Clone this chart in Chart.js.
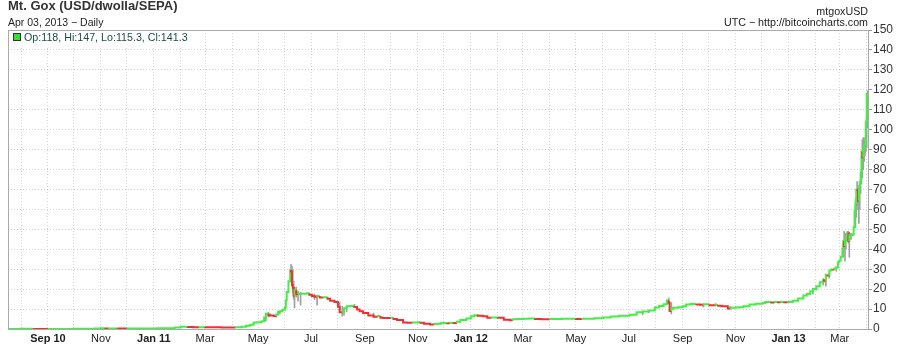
<!DOCTYPE html>
<html>
<head>
<meta charset="utf-8">
<title>Mt. Gox (USD/dwolla/SEPA)</title>
<script src="https://cdn.jsdelivr.net/npm/chart.js@4.4.1/dist/chart.umd.min.js"></script>
<style>
  body { margin: 0; background: #fff; }
  canvas { display: block; }
</style>
</head>
<body>
<canvas id="chart" width="901" height="348"></canvas>
<script>
// Closing prices (USD), sampled from the daily chart
const dates = [
  '2010-07-17','2010-08-01','2010-08-15','2010-09-01','2010-09-15','2010-10-01','2010-10-15','2010-10-25','2010-11-01','2010-11-06','2010-11-10','2010-11-20','2010-12-01','2010-12-15','2010-12-25',
  '2011-01-05','2011-01-15','2011-01-25','2011-02-01','2011-02-09','2011-02-15','2011-02-22','2011-03-01','2011-03-10','2011-03-20','2011-03-29','2011-04-05','2011-04-12','2011-04-17','2011-04-22','2011-04-26','2011-04-30',
  '2011-05-05','2011-05-08','2011-05-10','2011-05-13','2011-05-15','2011-05-19','2011-05-22','2011-05-24','2011-05-26','2011-05-29',
  '2011-06-01','2011-06-02','2011-06-03','2011-06-05','2011-06-07','2011-06-08','2011-06-09','2011-06-10','2011-06-11','2011-06-12','2011-06-14','2011-06-16','2011-06-19','2011-06-26','2011-06-29',
  '2011-07-02','2011-07-05','2011-07-08','2011-07-11','2011-07-15','2011-07-20','2011-07-23','2011-07-28','2011-08-01','2011-08-03','2011-08-06','2011-08-08','2011-08-11','2011-08-15','2011-08-20','2011-08-23','2011-08-26','2011-08-30',
  '2011-09-05','2011-09-11','2011-09-16','2011-09-19','2011-09-22','2011-10-01','2011-10-04','2011-10-08','2011-10-15','2011-10-20','2011-10-26','2011-11-01','2011-11-04','2011-11-08','2011-11-15','2011-11-20','2011-11-24','2011-11-28','2011-12-05','2011-12-08','2011-12-12','2011-12-16','2011-12-20','2011-12-27',
  '2012-01-01','2012-01-05','2012-01-09','2012-01-15','2012-01-20','2012-01-25','2012-02-01','2012-02-08','2012-02-15','2012-02-18','2012-02-24',
  '2012-03-01','2012-03-08','2012-03-15','2012-03-22','2012-04-01','2012-04-08','2012-04-15','2012-04-22','2012-05-01','2012-05-08','2012-05-15','2012-05-22','2012-06-01','2012-06-10','2012-06-20','2012-07-02','2012-07-10','2012-07-17','2012-07-24','2012-07-31',
  '2012-08-05','2012-08-10','2012-08-14','2012-08-16','2012-08-17','2012-08-19','2012-08-21','2012-08-27','2012-09-01','2012-09-05','2012-09-10','2012-09-17','2012-09-21','2012-09-25',
  '2012-10-02','2012-10-09','2012-10-12','2012-10-16','2012-10-23','2012-10-26','2012-11-01','2012-11-05','2012-11-10','2012-11-17','2012-11-24','2012-12-02','2012-12-05','2012-12-12','2012-12-16','2012-12-20','2012-12-23','2012-12-27','2012-12-31',
  '2013-01-06','2013-01-12','2013-01-18','2013-01-22','2013-01-26','2013-01-29','2013-02-02','2013-02-06','2013-02-10','2013-02-11','2013-02-13','2013-02-15','2013-02-17','2013-02-19','2013-02-21','2013-02-23','2013-02-25','2013-02-27','2013-02-28',
  '2013-03-02','2013-03-04','2013-03-05','2013-03-06','2013-03-07','2013-03-08','2013-03-09','2013-03-10','2013-03-11','2013-03-12','2013-03-13','2013-03-14','2013-03-16','2013-03-17','2013-03-18',
  '2013-03-19','2013-03-20','2013-03-21','2013-03-22','2013-03-23','2013-03-24','2013-03-25','2013-03-26','2013-03-27','2013-03-28','2013-03-29','2013-03-30','2013-03-31','2013-04-01','2013-04-02'
];
const closes = [
  0.05,0.06,0.07,0.06,0.06,0.06,0.10,0.14,0.20,0.39,0.25,0.28,0.21,0.24,0.25,
  0.30,0.39,0.42,0.71,1.09,1.05,0.85,0.92,0.88,0.82,0.79,0.72,0.88,1.10,1.60,2.10,3.20,
  3.40,3.90,5.80,7.60,6.90,6.80,6.50,7.30,8.60,8.90,
  9.60,10.60,14.30,18.50,24.00,29.60,28.90,22.00,20.70,16.80,19.50,17.50,17.60,17.70,17.90,
  17.20,16.50,16.20,16.60,15.80,15.90,15.20,14.20,13.60,11.20,8.40,8.60,10.40,11.40,11.50,11.00,9.80,8.90,
  8.00,6.80,6.20,6.50,5.60,5.50,5.70,5.00,4.50,3.30,3.10,3.20,3.40,3.10,2.60,2.30,2.50,2.60,3.00,2.90,3.10,3.00,3.60,4.50,
  5.30,6.40,6.90,6.60,6.40,5.60,5.80,5.60,4.60,4.40,4.90,
  5.00,5.20,5.30,5.00,4.90,5.00,5.00,5.10,5.10,5.00,5.10,5.10,5.40,5.80,6.30,6.70,7.20,8.40,8.80,9.30,
  10.80,11.60,12.40,14.30,13.20,9.00,10.20,10.60,10.90,11.40,12.30,12.60,12.30,12.20,
  12.40,11.90,12.00,11.70,11.40,10.30,10.60,10.80,10.90,11.40,12.30,12.70,13.00,13.50,13.30,13.50,13.40,13.50,13.40,
  13.60,14.20,15.30,16.80,17.60,19.00,20.10,21.50,23.50,25.00,24.20,27.20,26.90,29.40,29.90,29.80,30.40,31.00,33.40,
  34.30,36.20,40.30,44.20,41.60,44.20,46.60,46.90,48.40,44.20,46.90,47.00,47.20,47.40,51.00,
  59.00,64.00,70.00,69.90,64.40,71.50,73.60,78.50,88.90,86.20,90.50,92.20,93.00,104.00,118.00
];

// High / low wicks where they stand out from the bodies
const wickDates = [
  '2010-11-06','2011-05-10','2011-05-13','2011-05-15','2011-05-22','2011-05-26','2011-06-08','2011-06-09','2011-06-10','2011-06-11','2011-06-12','2011-06-14','2011-06-16','2011-06-19','2011-07-05','2011-07-08','2011-08-03','2011-08-06','2011-08-08','2011-08-11','2011-08-20','2011-09-11',
  '2012-01-09','2012-02-18','2012-07-17','2012-07-24','2012-08-16','2012-08-19','2012-09-25','2012-10-09','2012-10-26',
  '2013-01-29','2013-02-02','2013-02-10','2013-02-13','2013-02-17','2013-02-25','2013-03-05','2013-03-06','2013-03-07','2013-03-08','2013-03-10','2013-03-11','2013-03-12','2013-03-14',
  '2013-03-19','2013-03-20','2013-03-21','2013-03-22','2013-03-23','2013-03-24','2013-03-25','2013-03-26','2013-03-27','2013-03-28','2013-03-29','2013-03-30','2013-03-31','2013-04-01','2013-04-02'
];
const wickLows = [
  0.25,3.9,6.0,6.5,5.9,7.5,24,26,18,15,10.6,16,14,12,14.8,12.0,9.5,6.4,7.0,8.6,10.8,6.1,
  6.2,4.2,7.2,8.2,13.0,7.6,11.0,11.6,9.9,
  17.5,19.5,22.0,21.5,25.5,29.0,36.0,40.0,34.0,40.0,44.0,43.0,36.0,45.0,
  51,56,62,60,53,60,68,73,76,80,84,87,89,91,101
];
const wickHighs = [
  0.50,6.2,8.5,7.6,7.0,8.9,32.4,31.5,30,24,21,21,19,18.5,17.5,17.0,13.5,11.4,9.5,11.2,12.4,8.0,
  7.3,4.8,9.0,9.2,15.6,13.2,12.6,12.8,11.4,
  19.8,21.0,24.5,25.5,28.0,31.0,43.0,49.0,46.0,48.0,49.0,49.0,48.5,48.0,
  62,66,74,72,70,72,75,80,95,96,94,96,95,106,119.5
];

// x axis: a grid line every month, a label every second month
const tickDates = [
  '2010-08-01','2010-09-01','2010-10-01','2010-11-01','2010-12-01',
  '2011-01-01','2011-02-01','2011-03-01','2011-04-01','2011-05-01','2011-06-01','2011-07-01','2011-08-01','2011-09-01','2011-10-01','2011-11-01','2011-12-01',
  '2012-01-01','2012-02-01','2012-03-01','2012-04-01','2012-05-01','2012-06-01','2012-07-01','2012-08-01','2012-09-01','2012-10-01','2012-11-01','2012-12-01',
  '2013-01-01','2013-02-01','2013-03-01','2013-04-01'
];
const tickLabels = [
  '','Sep 10','','Nov','',
  'Jan 11','','Mar','','May','','Jul','','Sep','','Nov','',
  'Jan 12','','Mar','','May','','Jul','','Sep','','Nov','',
  'Jan 13','','Mar',''
];
const yTicks = [0,10,20,30,40,50,60,70,80,90,100,110,120,130,140,150];

// last candle shown in the legend: open, high, low, close
const lastOHLC = [118, 147, 115.3, 141.3];

const FONT = '"Liberation Sans", Arial, sans-serif';
const UP = '#44ee44';
const DOWN = '#f03030';
const GRID = '#d2d2d2';

function dayIndex(s) {
  return (Date.parse(s) - Date.parse('2010-07-17')) / 86400000;
}

const lineData = dates.map((d, i) => ({ x: dayIndex(d), y: closes[i] }));
const wickData = wickDates.map((d, i) => ({ x: dayIndex(d), y: [wickLows[i], wickHighs[i]] }));

// Frame, titles and legend
const decorations = {
  id: 'decorations',
  beforeDraw(chart) {
    const ctx = chart.ctx;
    ctx.save();
    ctx.fillStyle = '#fff';
    ctx.fillRect(0, 0, chart.width, chart.height);
    ctx.restore();
  },
  beforeDatasetsDraw(chart) {
    // legend sits on a white box over the grid
    const ctx = chart.ctx;
    ctx.save();
    ctx.fillStyle = '#fff';
    ctx.fillRect(chart.chartArea.left + 1, chart.chartArea.top + 1, 186, 16);
    ctx.restore();
  },
  afterDraw(chart) {
    const ctx = chart.ctx;
    const a = chart.chartArea;
    ctx.save();

    ctx.strokeStyle = '#aaa';
    ctx.lineWidth = 1;
    ctx.strokeRect(a.left + 0.5, a.top + 0.5, a.right - a.left, a.bottom - a.top);

    ctx.textBaseline = 'alphabetic';
    ctx.fillStyle = '#333';
    ctx.textAlign = 'left';
    ctx.font = 'bold 13px ' + FONT;
    ctx.fillText('Mt. Gox (USD/dwolla/SEPA)', 8, 10);
    ctx.fillStyle = '#222';
    ctx.font = '10.5px ' + FONT;
    ctx.fillText('Apr 03, 2013 \u2212 Daily', 8, 26);

    ctx.textAlign = 'right';
    ctx.font = '10.7px ' + FONT;
    ctx.fillText('mtgoxUSD', 868, 15);
    ctx.fillText('UTC \u2212 http://bitcoincharts.com', 868, 26);

    // legend
    ctx.fillStyle = '#33e033';
    ctx.fillRect(14, 34, 6, 6);
    ctx.strokeStyle = '#333';
    ctx.strokeRect(13.5, 33.5, 7, 7);
    ctx.textAlign = 'left';
    ctx.fillStyle = '#1c4a46';
    ctx.font = '10.7px ' + FONT;
    ctx.fillText('Op:' + lastOHLC[0] + ', Hi:' + lastOHLC[1] + ', Lo:' + lastOHLC[2] + ', Cl:' + lastOHLC[3], 24, 41);

    ctx.restore();
  }
};

new Chart(document.getElementById('chart'), {
  type: 'bar',
  data: {
    datasets: [
      {
        type: 'line',
        data: lineData,
        stepped: 'after',
        borderWidth: 2,
        borderColor: UP,
        borderCapStyle: 'butt',
        borderJoinStyle: 'miter',
        pointRadius: 0,
        tension: 0,
        clip: 0,
        order: 0,
        segment: {
          borderColor: ctx => ctx.p1.parsed.y >= ctx.p0.parsed.y ? UP : DOWN
        }
      },
      {
        type: 'bar',
        data: wickData,
        backgroundColor: '#a0a0a0',
        borderWidth: 0,
        barThickness: 1,
        grouped: false,
        clip: 0,
        order: 1
      }
    ]
  },
  options: {
    responsive: false,
    devicePixelRatio: 1,
    animation: false,
    events: [],
    layout: { padding: { top: 30, left: 8, right: 0, bottom: 0 } },
    plugins: {
      legend: { display: false },
      tooltip: { enabled: false },
      title: { display: false }
    },
    scales: {
      x: {
        type: 'linear',
        min: 0,
        max: dayIndex('2013-04-02') + 0.5,
        offset: false,
        afterBuildTicks: s => { s.ticks = tickDates.map(d => ({ value: dayIndex(d) })); },
        afterFit: s => { s.height = 19; },
        grid: { color: GRID, drawTicks: false, offset: false },
        border: { display: false, dash: [1, 2] },
        ticks: {
          autoSkip: false,
          maxRotation: 0,
          padding: 3,
          color: '#222',
          callback: (v, i) => tickLabels[i],
          font: ctx => ({
            family: FONT,
            size: 11,
            weight: /\d/.test(tickLabels[ctx.index] || '') ? 'bold' : 'normal'
          })
        }
      },
      y: {
        type: 'linear',
        position: 'right',
        min: 0,
        max: 150,
        afterBuildTicks: s => { s.ticks = yTicks.map(v => ({ value: v })); },
        afterFit: s => { s.width = 33; },
        grid: { color: GRID, tickLength: 4, tickColor: '#999', tickBorderDash: [] },
        border: { display: false, dash: [1, 2] },
        ticks: {
          padding: 1,
          color: '#333',
          font: { family: FONT, size: 12 },
          callback: v => String(v)
        }
      }
    }
  },
  plugins: [decorations]
});
</script>
</body>
</html>
